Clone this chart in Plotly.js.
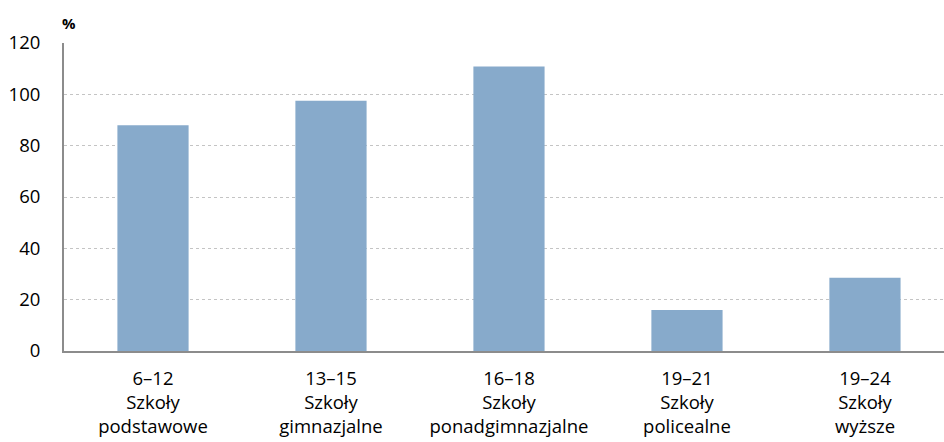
<!DOCTYPE html>
<html>
<head>
<meta charset="utf-8">
<script src="https://cdn.plot.ly/plotly-3.0.1.min.js"></script>
<style>html,body{margin:0;padding:0;background:#fff;}#chart{width:944px;height:442px;}</style>
</head>
<body>
<div id="chart"></div>
<script>
const categories = ["6–12<br>Szkoły<br>podstawowe", "13–15<br>Szkoły<br>gimnazjalne", "16–18<br>Szkoły<br>ponadgimnazjalne", "19–21<br>Szkoły<br>policealne", "19–24<br>Szkoły<br>wyższe"];
const values = [88.0, 97.5, 110.8, 16.0, 28.5];
const yTicks = [0, 20, 40, 60, 80, 100, 120];
const unitLabel = "%";

const font = {family: "Open Sans, sans-serif", size: 18.5, color: "#000"};
Plotly.newPlot("chart", [{
  type: "bar",
  x: categories,
  y: values,
  marker: {color: "#87aacb", line: {color: "#ffffff", width: 0}},
  hoverinfo: "skip"
}], {
  width: 944, height: 442,
  margin: {l: 64, r: 0, t: 43, b: 91},
  paper_bgcolor: "#fff", plot_bgcolor: "#fff",
  font: font,
  bargap: 0.6,
  showlegend: false,
  xaxis: {
    type: "category", range: [-0.5, 4.444],
    showline: true, linecolor: "#8c8c8c", linewidth: 2,
    showgrid: false, ticks: "", ticklabelstandoff: 10,
    tickfont: font, fixedrange: true
  },
  yaxis: {
    range: [0, 120], tickvals: yTicks, ticktext: yTicks.map(String),
    showline: true, linecolor: "#8c8c8c", linewidth: 2,
    showgrid: true, gridcolor: "#c4c4c4", griddash: "dot", gridwidth: 1,
    zeroline: false, ticks: "", ticklabelstandoff: 18,
    tickfont: font, fixedrange: true
  },
  annotations: [{
    text: "<b>" + unitLabel + "</b>", xref: "paper", yref: "paper",
    x: 0, y: 1, xanchor: "left", yanchor: "bottom", xshift: -4, yshift: 8,
    showarrow: false, font: {family: "Open Sans, sans-serif", size: 15, color: "#000"}
  }]
}, {staticPlot: true, displayModeBar: false});
</script>
</body>
</html>
